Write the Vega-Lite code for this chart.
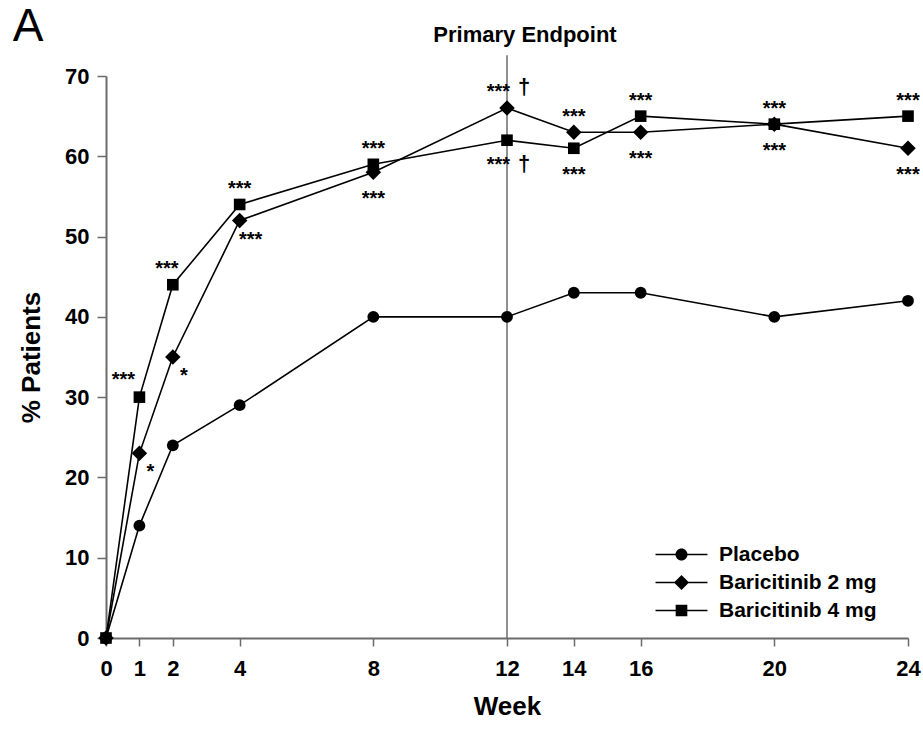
{
  "$schema": "https://vega.github.io/schema/vega-lite/v6.json",
  "width": 802,
  "height": 562,
  "autosize": {"type": "none"},
  "padding": {"left": 106, "top": 76, "right": 15, "bottom": 97},
  "background": "white",
  "config": {
    "view": {"stroke": null},
    "font": "Liberation Sans",
    "axis": {
      "grid": false,
      "domainColor": "#6b6b6b",
      "tickColor": "#6b6b6b",
      "domainWidth": 2,
      "tickWidth": 1.5,
      "labelFont": "Liberation Sans",
      "labelFontWeight": "bold",
      "labelColor": "#000000",
      "titleFont": "Liberation Sans",
      "titleFontWeight": "bold",
      "titleColor": "#000000"
    }
  },
  "datasets": {
    "series": [
      {"series": "Placebo", "week": 0, "pct": 0},
      {"series": "Placebo", "week": 1, "pct": 14},
      {"series": "Placebo", "week": 2, "pct": 24},
      {"series": "Placebo", "week": 4, "pct": 29},
      {"series": "Placebo", "week": 8, "pct": 40},
      {"series": "Placebo", "week": 12, "pct": 40},
      {"series": "Placebo", "week": 14, "pct": 43},
      {"series": "Placebo", "week": 16, "pct": 43},
      {"series": "Placebo", "week": 20, "pct": 40},
      {"series": "Placebo", "week": 24, "pct": 42},
      {"series": "Baricitinib 2 mg", "week": 0, "pct": 0},
      {"series": "Baricitinib 2 mg", "week": 1, "pct": 23},
      {"series": "Baricitinib 2 mg", "week": 2, "pct": 35},
      {"series": "Baricitinib 2 mg", "week": 4, "pct": 52},
      {"series": "Baricitinib 2 mg", "week": 8, "pct": 58},
      {"series": "Baricitinib 2 mg", "week": 12, "pct": 66},
      {"series": "Baricitinib 2 mg", "week": 14, "pct": 63},
      {"series": "Baricitinib 2 mg", "week": 16, "pct": 63},
      {"series": "Baricitinib 2 mg", "week": 20, "pct": 64},
      {"series": "Baricitinib 2 mg", "week": 24, "pct": 61},
      {"series": "Baricitinib 4 mg", "week": 0, "pct": 0},
      {"series": "Baricitinib 4 mg", "week": 1, "pct": 30},
      {"series": "Baricitinib 4 mg", "week": 2, "pct": 44},
      {"series": "Baricitinib 4 mg", "week": 4, "pct": 54},
      {"series": "Baricitinib 4 mg", "week": 8, "pct": 59},
      {"series": "Baricitinib 4 mg", "week": 12, "pct": 62},
      {"series": "Baricitinib 4 mg", "week": 14, "pct": 61},
      {"series": "Baricitinib 4 mg", "week": 16, "pct": 65},
      {"series": "Baricitinib 4 mg", "week": 20, "pct": 64},
      {"series": "Baricitinib 4 mg", "week": 24, "pct": 65}
    ],
    "notes": [
      {"pos": "left", "week": 1, "pct": 30, "label": "***"},
      {"pos": "aboveLeft", "week": 2, "pct": 44, "label": "***"},
      {"pos": "right", "week": 1, "pct": 23, "label": "*"},
      {"pos": "right", "week": 2, "pct": 35, "label": "*"},
      {"pos": "right", "week": 4, "pct": 52, "label": "***"},
      {"pos": "above", "week": 4, "pct": 54, "label": "***"},
      {"pos": "above", "week": 8, "pct": 59, "label": "***"},
      {"pos": "above", "week": 14, "pct": 63, "label": "***"},
      {"pos": "above", "week": 16, "pct": 65, "label": "***"},
      {"pos": "above", "week": 20, "pct": 64, "label": "***"},
      {"pos": "above", "week": 24, "pct": 65, "label": "***"},
      {"pos": "below", "week": 8, "pct": 58, "label": "***"},
      {"pos": "below", "week": 14, "pct": 61, "label": "***"},
      {"pos": "below", "week": 16, "pct": 63, "label": "***"},
      {"pos": "below", "week": 20, "pct": 64, "label": "***"},
      {"pos": "below", "week": 24, "pct": 61, "label": "***"},
      {"pos": "above12", "week": 12, "pct": 66, "label": "***"},
      {"pos": "below12", "week": 12, "pct": 62, "label": "***"},
      {"pos": "dagAbove", "week": 12, "pct": 66, "label": "†"},
      {"pos": "dagBelow", "week": 12, "pct": 62, "label": "†"}
    ]
  },
  "layer": [
    {
      "data": {"values": [{"week": 12}]},
      "mark": {"type": "rule", "color": "#6b6b6b", "strokeWidth": 1.5},
      "encoding": {
        "x": {"field": "week", "type": "quantitative"},
        "y": {"datum": 0, "type": "quantitative"},
        "y2": {"datum": 72.6}
      }
    },
    {
      "data": {"name": "series"},
      "mark": {"type": "line", "color": "#000000", "strokeWidth": 1.6},
      "encoding": {
        "x": {
          "field": "week", "type": "quantitative",
          "scale": {"domain": [0, 24], "nice": false, "zero": false},
          "axis": {
            "title": "Week", "values": [0, 1, 2, 4, 8, 12, 14, 16, 20, 24],
            "tickSize": 8, "labelFontSize": 22, "labelPadding": 12,
            "labelFlush": false, "labelOverlap": false,
            "titleFontSize": 26, "titlePadding": 14
          }
        },
        "y": {
          "field": "pct", "type": "quantitative",
          "scale": {"domain": [0, 70], "nice": false},
          "axis": {
            "title": "% Patients", "values": [0, 10, 20, 30, 40, 50, 60, 70],
            "tickSize": 9, "labelFontSize": 22, "labelPadding": 8,
            "labelFlush": false, "labelOverlap": false,
            "titleFontSize": 26, "titlePadding": 20
          }
        },
        "detail": {"field": "series", "type": "nominal"}
      }
    },
    {
      "data": {"name": "series"},
      "transform": [{"filter": "datum.series === 'Placebo'"}],
      "mark": {"type": "point", "shape": "circle", "size": 140, "filled": true, "color": "#000000", "opacity": 1},
      "encoding": {
        "x": {"field": "week", "type": "quantitative"},
        "y": {"field": "pct", "type": "quantitative"}
      }
    },
    {
      "data": {"name": "series"},
      "transform": [{"filter": "datum.series === 'Baricitinib 2 mg'"}],
      "mark": {"type": "point", "shape": "diamond", "size": 240, "filled": true, "color": "#000000", "opacity": 1},
      "encoding": {
        "x": {"field": "week", "type": "quantitative"},
        "y": {"field": "pct", "type": "quantitative"}
      }
    },
    {
      "data": {"name": "series"},
      "transform": [{"filter": "datum.series === 'Baricitinib 4 mg'"}],
      "mark": {"type": "point", "shape": "square", "size": 135, "filled": true, "color": "#000000", "opacity": 1},
      "encoding": {
        "x": {"field": "week", "type": "quantitative"},
        "y": {"field": "pct", "type": "quantitative"}
      }
    },
    {
      "data": {"name": "series"},
      "transform": [{"filter": "datum.week < 0"}],
      "mark": {"type": "point", "filled": true, "color": "#000000", "size": 144, "opacity": 1},
      "encoding": {
        "x": {"field": "week", "type": "quantitative"},
        "y": {"field": "pct", "type": "quantitative"},
        "shape": {
          "field": "series", "type": "nominal",
          "scale": {
            "domain": ["Placebo", "Baricitinib 2 mg", "Baricitinib 4 mg"],
            "range": [
              "M-4.33,-0.13L4.33,-0.13L4.33,0.13L-4.33,0.13ZM-1,0A1,1 0 1,1 1,0A1,1 0 1,1 -1,0Z",
              "M-4.33,-0.13L4.33,-0.13L4.33,0.13L-4.33,0.13ZM-1.25,0L0,-1.25L1.25,0L0,1.25Z",
              "M-4.33,-0.13L4.33,-0.13L4.33,0.13L-4.33,0.13ZM-0.97,-0.97L0.97,-0.97L0.97,0.97L-0.97,0.97Z"
            ]
          },
          "legend": {
            "title": null, "orient": "none", "legendX": 565, "legendY": 468,
            "padding": 0, "rowPadding": 6, "labelOffset": 27,
            "labelFont": "Liberation Sans", "labelFontWeight": "bold",
            "labelFontSize": 21, "labelColor": "#000000",
            "symbolFillColor": "#000000", "symbolOpacity": 1, "symbolSize": 144
          }
        }
      }
    },
    {
      "data": {"name": "notes"},
      "transform": [{"filter": "datum.pos === 'above'"}],
      "mark": {"type": "text", "fontSize": 20, "fontWeight": "bold", "baseline": "alphabetic", "align": "center", "dy": -9},
      "encoding": {"x": {"field": "week", "type": "quantitative"}, "y": {"field": "pct", "type": "quantitative"}, "text": {"field": "label"}}
    },
    {
      "data": {"name": "notes"},
      "transform": [{"filter": "datum.pos === 'below'"}],
      "mark": {"type": "text", "fontSize": 20, "fontWeight": "bold", "baseline": "alphabetic", "align": "center", "dy": 33},
      "encoding": {"x": {"field": "week", "type": "quantitative"}, "y": {"field": "pct", "type": "quantitative"}, "text": {"field": "label"}}
    },
    {
      "data": {"name": "notes"},
      "transform": [{"filter": "datum.pos === 'above12'"}],
      "mark": {"type": "text", "fontSize": 20, "fontWeight": "bold", "baseline": "alphabetic", "align": "right", "dx": 3, "dy": -10},
      "encoding": {"x": {"field": "week", "type": "quantitative"}, "y": {"field": "pct", "type": "quantitative"}, "text": {"field": "label"}}
    },
    {
      "data": {"name": "notes"},
      "transform": [{"filter": "datum.pos === 'below12'"}],
      "mark": {"type": "text", "fontSize": 20, "fontWeight": "bold", "baseline": "alphabetic", "align": "right", "dx": 3, "dy": 31},
      "encoding": {"x": {"field": "week", "type": "quantitative"}, "y": {"field": "pct", "type": "quantitative"}, "text": {"field": "label"}}
    },
    {
      "data": {"name": "notes"},
      "transform": [{"filter": "datum.pos === 'dagAbove'"}],
      "mark": {"type": "text", "fontSize": 22, "fontWeight": "bold", "baseline": "alphabetic", "align": "left", "dx": 11, "dy": -14},
      "encoding": {"x": {"field": "week", "type": "quantitative"}, "y": {"field": "pct", "type": "quantitative"}, "text": {"field": "label"}}
    },
    {
      "data": {"name": "notes"},
      "transform": [{"filter": "datum.pos === 'dagBelow'"}],
      "mark": {"type": "text", "fontSize": 22, "fontWeight": "bold", "baseline": "alphabetic", "align": "left", "dx": 11, "dy": 31},
      "encoding": {"x": {"field": "week", "type": "quantitative"}, "y": {"field": "pct", "type": "quantitative"}, "text": {"field": "label"}}
    },
    {
      "data": {"name": "notes"},
      "transform": [{"filter": "datum.pos === 'aboveLeft'"}],
      "mark": {"type": "text", "fontSize": 20, "fontWeight": "bold", "baseline": "alphabetic", "align": "center", "dx": -6, "dy": -10},
      "encoding": {"x": {"field": "week", "type": "quantitative"}, "y": {"field": "pct", "type": "quantitative"}, "text": {"field": "label"}}
    },
    {
      "data": {"name": "notes"},
      "transform": [{"filter": "datum.pos === 'left'"}],
      "mark": {"type": "text", "fontSize": 20, "fontWeight": "bold", "baseline": "alphabetic", "align": "center", "dx": -16, "dy": -11},
      "encoding": {"x": {"field": "week", "type": "quantitative"}, "y": {"field": "pct", "type": "quantitative"}, "text": {"field": "label"}}
    },
    {
      "data": {"name": "notes"},
      "transform": [{"filter": "datum.pos === 'right'"}],
      "mark": {"type": "text", "fontSize": 20, "fontWeight": "bold", "baseline": "alphabetic", "align": "center", "dx": 11, "dy": 25},
      "encoding": {"x": {"field": "week", "type": "quantitative"}, "y": {"field": "pct", "type": "quantitative"}, "text": {"field": "label"}}
    },
    {
      "data": {"values": [{"label": "Primary Endpoint"}]},
      "mark": {"type": "text", "fontSize": 22, "fontWeight": "bold", "baseline": "alphabetic", "align": "center", "dx": 18},
      "encoding": {"x": {"datum": 12, "type": "quantitative"}, "y": {"datum": 74.2, "type": "quantitative"}, "text": {"field": "label"}}
    },
    {
      "data": {"values": [{"label": "A"}]},
      "mark": {"type": "text", "fontSize": 46, "fontWeight": "normal", "baseline": "alphabetic", "align": "center"},
      "encoding": {"x": {"datum": -2.33, "type": "quantitative"}, "y": {"datum": 74.4, "type": "quantitative"}, "text": {"field": "label"}}
    }
  ]
}
